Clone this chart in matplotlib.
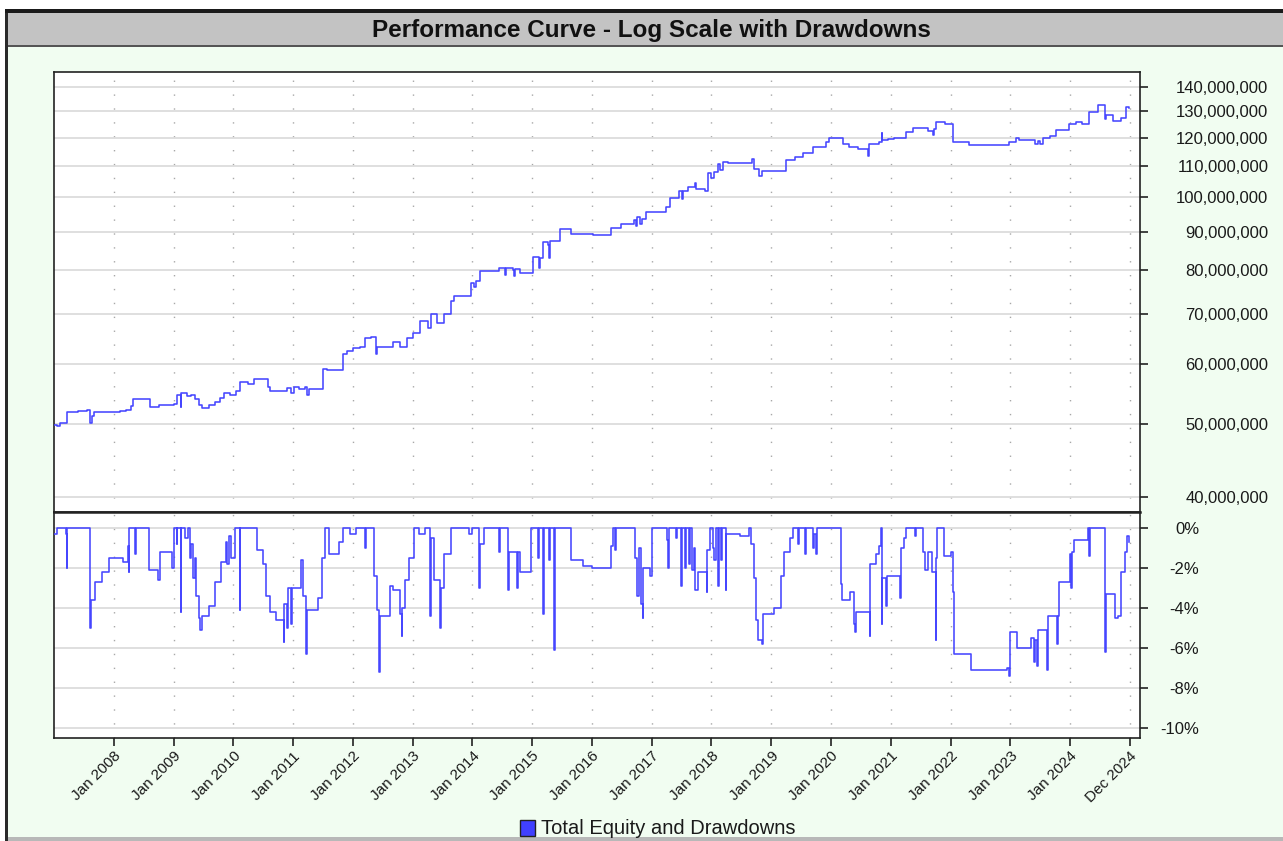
import matplotlib
matplotlib.use("Agg")
import matplotlib.pyplot as plt
from matplotlib.patches import Rectangle
from matplotlib.ticker import FixedLocator, NullLocator, NullFormatter
import numpy as np

plt.rcParams['font.family'] = ['Liberation Sans', 'DejaVu Sans']

# ---------------- data (decimal year, value) ----------------
eq_years = [2007.00, 2007.05, 2007.10, 2007.22, 2007.40, 2007.55, 2007.61, 2007.63, 2007.67, 2007.90,
            2008.10, 2008.20, 2008.28, 2008.33, 2008.61, 2008.75, 2009.00, 2009.05, 2009.12, 2009.13,
            2009.22, 2009.30, 2009.36, 2009.42, 2009.48, 2009.60, 2009.70, 2009.78, 2009.85, 2009.95,
            2010.05, 2010.12, 2010.25, 2010.34, 2010.51, 2010.58, 2010.62, 2010.84, 2010.90, 2010.96,
            2011.02, 2011.10, 2011.20, 2011.23, 2011.26, 2011.48, 2011.50, 2011.57, 2011.82, 2011.84,
            2011.90, 2012.00, 2012.12, 2012.21, 2012.30, 2012.38, 2012.40, 2012.63, 2012.68, 2012.79,
            2012.90, 2013.00, 2013.13, 2013.25, 2013.30, 2013.40, 2013.46, 2013.52, 2013.62, 2013.65,
            2013.70, 2013.95, 2013.97, 2014.03, 2014.06, 2014.12, 2014.30, 2014.45, 2014.55, 2014.56,
            2014.68, 2014.70, 2014.72, 2014.79, 2014.96, 2015.02, 2015.10, 2015.12, 2015.13, 2015.18,
            2015.26, 2015.28, 2015.30, 2015.46, 2015.60, 2015.65, 2016.02, 2016.32, 2016.49, 2016.71,
            2016.74, 2016.76, 2016.80, 2016.83, 2016.91, 2017.24, 2017.30, 2017.46, 2017.50, 2017.52,
            2017.60, 2017.72, 2017.74, 2017.90, 2017.94, 2018.00, 2018.05, 2018.11, 2018.15, 2018.20,
            2018.27, 2018.66, 2018.68, 2018.72, 2018.80, 2018.85, 2019.17, 2019.25, 2019.40, 2019.53,
            2019.70, 2019.92, 2019.97, 2020.14, 2020.20, 2020.30, 2020.39, 2020.45, 2020.61, 2020.62,
            2020.63, 2020.81, 2020.85, 2020.86, 2020.95, 2021.05, 2021.14, 2021.25, 2021.37, 2021.59,
            2021.62, 2021.70, 2021.72, 2021.76, 2021.90, 2022.04, 2022.31, 2022.82, 2022.98, 2023.10,
            2023.15, 2023.37, 2023.42, 2023.46, 2023.50, 2023.54, 2023.66, 2023.76, 2023.99, 2024.10,
            2024.20, 2024.32, 2024.46, 2024.57, 2024.58, 2024.60, 2024.71, 2024.85, 2024.93, 2024.99]
eq_millions = [49.9, 49.7, 50.1, 51.8, 52.0, 52.2, 50.2, 51.3, 51.8, 51.9,
               52.0, 52.2, 52.8, 53.9, 52.6, 53.0, 53.2, 54.7, 52.7, 54.9,
               54.4, 54.6, 53.9, 53.0, 52.5, 52.9, 53.5, 54.1, 55.0, 54.6,
               55.3, 56.9, 56.5, 57.3, 57.3, 55.9, 55.3, 55.3, 55.8, 55.0,
               55.9, 55.7, 55.9, 54.7, 55.7, 55.7, 59.2, 58.9, 58.9, 61.9,
               62.5, 63.1, 63.3, 65.1, 65.2, 61.9, 63.3, 63.3, 64.2, 63.2,
               65.1, 66.0, 68.4, 67.0, 69.9, 68.1, 68.1, 70.0, 70.0, 72.9,
               74.0, 74.0, 77.0, 76.0, 77.5, 79.7, 79.8, 80.5, 78.8, 80.5,
               80.0, 78.5, 80.3, 79.3, 79.3, 83.4, 83.4, 80.5, 83.0, 87.2,
               86.5, 83.0, 87.5, 90.6, 90.8, 89.4, 89.1, 90.9, 92.2, 93.3,
               91.5, 94.2, 92.0, 93.5, 95.6, 97.0, 99.7, 101.9, 99.5, 102.0,
               103.0, 104.3, 102.4, 101.8, 107.6, 106.0, 108.0, 110.8, 108.5, 111.2,
               111.1, 111.1, 112.3, 109.0, 106.8, 108.2, 108.2, 112.1, 113.0, 114.3,
               116.6, 118.3, 120.0, 120.0, 117.5, 116.5, 116.5, 115.8, 115.8, 113.5,
               117.5, 118.4, 121.5, 119.0, 119.5, 119.8, 120.0, 121.9, 123.6, 123.6,
               122.5, 121.0, 123.0, 125.8, 124.9, 118.4, 117.3, 117.3, 118.4, 119.7,
               119.1, 119.1, 117.8, 118.8, 117.5, 120.0, 120.5, 122.8, 124.9, 126.0,
               125.2, 129.9, 132.6, 132.6, 127.0, 128.7, 126.3, 127.5, 131.9, 131.2]

dd_years = [2007.00, 2007.05, 2007.20, 2007.21, 2007.22, 2007.60, 2007.61, 2007.62, 2007.66, 2007.69,
            2007.81, 2007.92, 2008.16, 2008.24, 2008.25, 2008.26, 2008.35, 2008.36, 2008.37, 2008.59,
            2008.74, 2008.77, 2008.97, 2009.00, 2009.05, 2009.06, 2009.12, 2009.13, 2009.20, 2009.25,
            2009.27, 2009.30, 2009.33, 2009.36, 2009.38, 2009.42, 2009.45, 2009.47, 2009.59, 2009.70,
            2009.79, 2009.88, 2009.90, 2009.92, 2009.96, 2010.02, 2010.11, 2010.12, 2010.37, 2010.40,
            2010.49, 2010.55, 2010.61, 2010.72, 2010.84, 2010.85, 2010.87, 2010.90, 2010.92, 2010.96,
            2010.98, 2011.10, 2011.13, 2011.16, 2011.22, 2011.23, 2011.35, 2011.42, 2011.48, 2011.54,
            2011.60, 2011.77, 2011.83, 2011.95, 2012.05, 2012.20, 2012.21, 2012.22, 2012.36, 2012.41,
            2012.44, 2012.45, 2012.62, 2012.68, 2012.79, 2012.82, 2012.83, 2012.88, 2012.94, 2013.03,
            2013.10, 2013.20, 2013.29, 2013.30, 2013.35, 2013.46, 2013.47, 2013.52, 2013.64, 2013.90,
            2013.95, 2013.99, 2014.11, 2014.12, 2014.20, 2014.45, 2014.46, 2014.60, 2014.61, 2014.75,
            2014.76, 2014.80, 2014.98, 2015.10, 2015.12, 2015.18, 2015.19, 2015.28, 2015.30, 2015.37,
            2015.38, 2015.65, 2015.85, 2016.00, 2016.32, 2016.35, 2016.39, 2016.40, 2016.72, 2016.76,
            2016.78, 2016.82, 2016.85, 2016.86, 2016.89, 2016.98, 2017.00, 2017.25, 2017.28, 2017.29,
            2017.40, 2017.42, 2017.49, 2017.50, 2017.55, 2017.57, 2017.62, 2017.64, 2017.68, 2017.70,
            2017.72, 2017.78, 2017.89, 2017.92, 2017.93, 2017.98, 2018.02, 2018.05, 2018.08, 2018.11,
            2018.12, 2018.16, 2018.18, 2018.24, 2018.25, 2018.48, 2018.63, 2018.66, 2018.72, 2018.74,
            2018.78, 2018.84, 2018.86, 2019.04, 2019.16, 2019.22, 2019.31, 2019.36, 2019.45, 2019.46,
            2019.57, 2019.58, 2019.70, 2019.72, 2019.75, 2019.76, 2020.16, 2020.19, 2020.31, 2020.39,
            2020.40, 2020.41, 2020.60, 2020.65, 2020.66, 2020.75, 2020.80, 2020.84, 2020.85, 2020.86,
            2020.92, 2020.93, 2021.16, 2021.17, 2021.22, 2021.25, 2021.40, 2021.42, 2021.54, 2021.58,
            2021.63, 2021.69, 2021.75, 2021.76, 2021.78, 2021.89, 2022.01, 2022.04, 2022.05, 2022.31,
            2022.34, 2022.66, 2022.81, 2022.95, 2022.98, 2022.99, 2023.10, 2023.12, 2023.31, 2023.35,
            2023.40, 2023.42, 2023.45, 2023.47, 2023.60, 2023.62, 2023.63, 2023.76, 2023.78, 2023.79,
            2023.81, 2023.98, 2024.00, 2024.02, 2024.04, 2024.07, 2024.28, 2024.30, 2024.32, 2024.33,
            2024.57, 2024.58, 2024.60, 2024.72, 2024.75, 2024.81, 2024.86, 2024.92, 2024.95, 2024.99]
dd_pct = [-0.3, 0.0, -0.3, -2.0, 0.0, 0.0, -5.0, -3.6, -3.6, -2.7,
          -2.2, -1.5, -1.7, -0.9, -2.2, 0.0, 0.0, -1.3, 0.0, -2.1,
          -2.6, -1.2, -2.0, 0.0, -0.8, 0.0, -4.2, 0.0, -0.5, 0.0,
          -1.5, -0.8, -2.5, -1.5, -3.4, -4.5, -5.1, -4.4, -3.9, -2.7,
          -1.7, -0.7, -1.8, -0.4, -1.5, 0.0, -4.1, 0.0, 0.0, -1.1,
          -1.8, -3.4, -4.2, -4.6, -5.7, -3.8, -3.8, -5.0, -3.0, -4.8,
          -3.0, -3.0, -1.6, -3.4, -6.3, -4.1, -4.1, -3.5, -1.5, 0.0,
          -1.3, -0.7, 0.0, -0.3, 0.0, -0.2, -1.0, 0.0, -2.4, -4.1,
          -7.2, -4.4, -2.9, -3.1, -4.3, -5.4, -4.0, -2.6, -1.5, 0.0,
          -0.3, 0.0, -4.4, -0.5, -2.6, -5.0, -3.0, -1.3, 0.0, 0.0,
          -0.3, 0.0, -3.0, -0.8, 0.0, -1.2, 0.0, -3.1, -1.2, -3.0,
          -1.2, -2.2, 0.0, -1.5, 0.0, -4.3, 0.0, -1.6, 0.0, -6.1,
          0.0, -1.6, -1.9, -2.0, -0.9, 0.0, -1.1, 0.0, -1.5, -3.4,
          -1.0, -3.8, -4.5, -2.0, -2.0, -2.4, 0.0, -0.6, -2.0, 0.0,
          -0.5, 0.0, -2.9, 0.0, -2.0, 0.0, -1.8, 0.0, -2.1, -1.0,
          -3.1, -2.2, -2.2, -3.2, -1.1, 0.0, -1.0, -1.6, 0.0, -2.9,
          0.0, -1.6, 0.0, -3.1, -0.3, -0.4, 0.0, -0.8, -2.5, -4.6,
          -5.6, -5.8, -4.3, -4.0, -2.4, -1.2, -0.5, 0.0, -0.8, 0.0,
          -1.3, 0.0, -1.0, -0.3, -1.3, 0.0, -2.8, -3.6, -3.2, -4.8,
          -5.2, -4.2, -4.2, -5.4, -1.8, -1.3, -0.9, 0.0, -4.8, -2.5,
          -3.9, -2.4, -3.5, -1.0, -0.5, 0.0, -0.4, 0.0, -1.2, -2.1,
          -1.2, -2.2, -5.6, -1.5, 0.0, -1.4, -1.2, -3.2, -6.3, -6.3,
          -7.1, -7.1, -7.1, -7.0, -7.4, -5.2, -5.2, -6.0, -6.0, -5.5,
          -6.7, -5.6, -6.9, -5.1, -5.1, -7.1, -4.4, -4.4, -5.8, -4.4,
          -2.7, -2.7, -1.3, -3.0, -1.2, -0.6, -0.6, 0.0, -1.4, 0.0,
          0.0, -6.2, -3.3, -3.3, -4.5, -4.4, -2.2, -1.2, -0.4, -0.7]

tick_years = [2008, 2009, 2010, 2011, 2012, 2013, 2014, 2015, 2016, 2017,
              2018, 2019, 2020, 2021, 2022, 2023, 2024, 2024.997]
tick_labels = ["Jan 2008", "Jan 2009", "Jan 2010", "Jan 2011", "Jan 2012", "Jan 2013",
               "Jan 2014", "Jan 2015", "Jan 2016", "Jan 2017", "Jan 2018", "Jan 2019",
               "Jan 2020", "Jan 2021", "Jan 2022", "Jan 2023", "Jan 2024", "Dec 2024"]
eq_ticks_millions = [40, 50, 60, 70, 80, 90, 100, 110, 120, 130, 140]
dd_ticks = [0, -2, -4, -6, -8, -10]

title = "Performance Curve - Log Scale with Drawdowns"
legend_label = "Total Equity and Drawdowns"

# ---------------- figure ----------------
W, H = 1283, 841
PT = 100 / 72.0  # pixels per point
fig = plt.figure(figsize=(W / 100, H / 100), dpi=100, facecolor='white')

def fx(px):
    return px / W

def fy(py):
    return 1 - py / H

# window frame + background
fig.patches.append(Rectangle((fx(5), 0), 1 - fx(5), fy(10), transform=fig.transFigure,
                             facecolor='#f1fdf1', edgecolor='none', zorder=-10))
fig.patches.append(Rectangle((fx(5), fy(842)), fx(3), fy(10) - fy(842), transform=fig.transFigure,
                             facecolor='#2a2a2a', edgecolor='none', zorder=-5))
fig.patches.append(Rectangle((fx(5), fy(13)), 1 - fx(5), fy(9) - fy(13), transform=fig.transFigure,
                             facecolor='#1a1a1a', edgecolor='none', zorder=-5))
fig.patches.append(Rectangle((fx(8), fy(46)), 1 - fx(8), fy(13) - fy(46), transform=fig.transFigure,
                             facecolor='#c3c3c3', edgecolor='none', zorder=-6))
fig.patches.append(Rectangle((fx(8), fy(47)), 1 - fx(8), fy(45) - fy(47), transform=fig.transFigure,
                             facecolor='#555555', edgecolor='none', zorder=-5))
fig.patches.append(Rectangle((fx(8), fy(841)), 1 - fx(8), fy(837) - fy(841), transform=fig.transFigure,
                             facecolor='#b8b8b8', edgecolor='none', zorder=-5))
fig.text(fx(651), fy(30), title, ha='center', va='center', fontsize=17.5, fontweight='bold',
         color='#111111')

left, right = fx(54), fx(1140)
ax1 = fig.add_axes([left, fy(512), right - left, fy(72) - fy(512)])
ax2 = fig.add_axes([left, fy(738), right - left, fy(512) - fy(738)], sharex=ax1)

line_color = '#4646ff'
grid_h = '#dcdcdc'
dot_color = '#a8a8a8'

for ax in (ax1, ax2):
    ax.set_facecolor('white')
    for s in ax.spines.values():
        s.set_color('#222222')
        s.set_linewidth(1.2)
    ax.yaxis.tick_right()
    for t in tick_years:
        ax.axvline(t, color=dot_color, lw=1.0, ls=(0, (1, 9)), zorder=0.5)

# upper panel: equity on log scale
ax1.set_yscale('log')
ax1.step(eq_years, [v * 1e6 for v in eq_millions], where='post', color=line_color, lw=1.15, zorder=3)
ax1.set_ylim(38.2e6, 146.6e6)
ax1.yaxis.set_major_locator(FixedLocator([v * 1e6 for v in eq_ticks_millions]))
ax1.yaxis.set_minor_locator(NullLocator())
ax1.yaxis.set_minor_formatter(NullFormatter())
ax1.set_yticklabels([f"{v * 1_000_000:,}" for v in eq_ticks_millions], ha='right')
ax1.tick_params(axis='y', which='major', direction='out', length=6, width=1.2,
                color='#222222', labelsize=12, labelcolor='#1a1a1a', pad=(1266 - 1146) / PT)
for v in eq_ticks_millions:
    ax1.axhline(v * 1e6, color=grid_h, lw=1.3, zorder=0.6)
ax1.tick_params(axis='x', which='both', length=0, labelbottom=False)

# lower panel: drawdowns
ax2.step(dd_years, dd_pct, where='post', color=line_color, lw=1.15, zorder=3)
ax2.set_ylim(-10.51, 0.82)
ax2.set_yticks(dd_ticks)
ax2.set_yticklabels([f"{v}%" for v in dd_ticks], ha='right')
ax2.tick_params(axis='y', which='major', direction='out', length=6, width=1.2,
                color='#222222', labelsize=12, labelcolor='#1a1a1a', pad=(1197 - 1146) / PT)
for v in dd_ticks:
    ax2.axhline(v, color=grid_h, lw=1.3, zorder=0.6)
ax2.spines['top'].set_linewidth(1.8)

ax2.set_xlim(2007.0, 2025.17)
ax2.set_xticks(tick_years)
ax2.set_xticklabels(tick_labels, rotation=45, ha='right', rotation_mode='anchor')
ax2.tick_params(axis='x', direction='out', length=6, width=1.2, color='#222222',
                labelsize=11, labelcolor='#1a1a1a', pad=2)

# legend
fig.patches.append(Rectangle((fx(520), fy(836)), fx(15), fy(820) - fy(836), transform=fig.transFigure,
                             facecolor='#4040ff', edgecolor='#222222', lw=1.0, zorder=5))
fig.text(fx(541), fy(828), legend_label, ha='left', va='center', fontsize=14.5, color='#1a1a1a')

fig.savefig('out.png', dpi=100, facecolor=fig.get_facecolor())
